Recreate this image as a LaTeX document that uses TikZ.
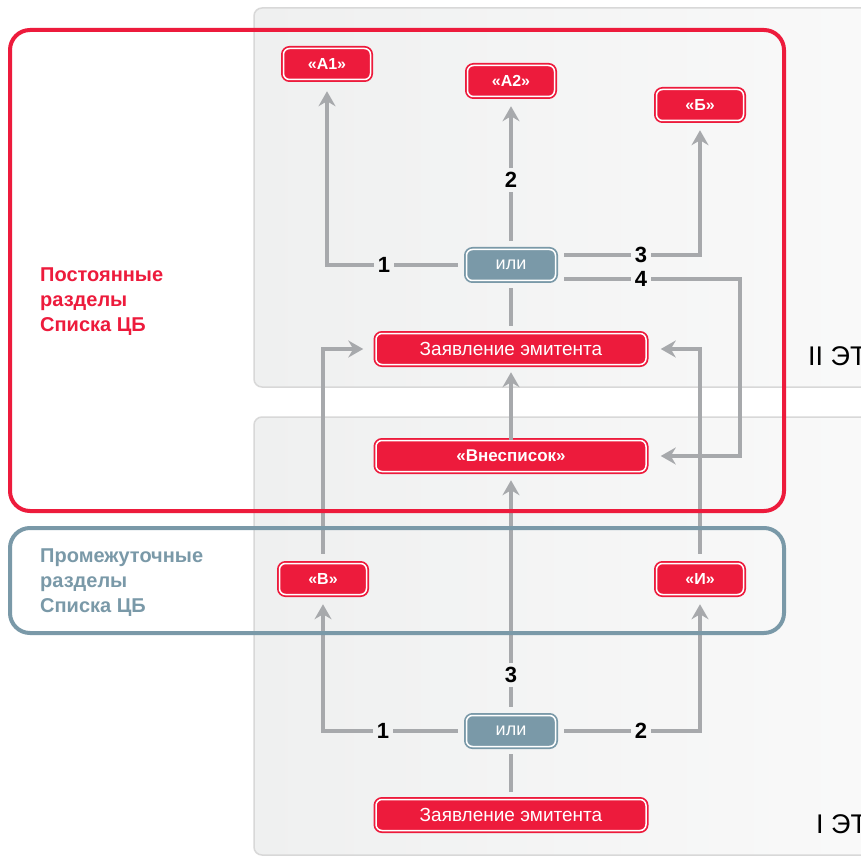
\documentclass[tikz,border=0pt]{standalone}
\usepackage{fontspec}
\setmainfont{Liberation Sans}
\usetikzlibrary{arrows.meta}
\definecolor{cbred}{RGB}{237,27,60}
\definecolor{cbblue}{RGB}{122,153,168}
\definecolor{cgray}{RGB}{167,169,172}
\definecolor{pleft}{RGB}{239,240,240}
\definecolor{pright}{RGB}{250,250,250}
\definecolor{pborder}{RGB}{216,216,216}
\tikzset{
  boxbase/.style={rectangle, rounded corners=6, draw=white, line width=1.5, text=white, inner sep=0, minimum height=31},
  rbox/.style={boxbase, fill=cbred, preaction={draw=cbred, line width=5}},
  gbox/.style={boxbase, fill=cbblue, preaction={draw=cbblue, line width=5}, minimum width=89, font=\fontsize{18}{20}\selectfont},
  smallbox/.style={rbox, minimum width=87, font=\bfseries\fontsize{16}{18}\selectfont},
  widebox/.style={rbox, minimum width=270},
  numlbl/.style={inner sep=4, font=\bfseries\fontsize{22}{24}\selectfont, text=black},
  conn/.style={draw=cgray, line width=4.5},
  arr/.style={conn, -{Stealth[length=15, width=17, inset=5]}, shorten >=10},
  panel/.style={rounded corners=8, shading=axis, left color=pleft, right color=pright, draw=pborder, line width=1.5},
  sect/.style={rounded corners=20, line width=4},
}
\begin{document}
\begin{tikzpicture}[x=1pt,y=-1pt]
\useasboundingbox (0,0) rectangle (861,858);
\clip (0,0) rectangle (861,858);
% panels
\fill[white] (0,0) rectangle (861,858);
\path[panel] (254,8) rectangle (920,387);
\path[panel] (254,417) rectangle (920,855);
\node[anchor=base west, inner sep=0, font=\fontsize{27}{30}\selectfont] (st2) at (808,365) {II ЭТ};
\node[anchor=base west, inner sep=0, font=\fontsize{27}{30}\selectfont] (st1) at (816,833) {I ЭТ};

% nodes
\node[smallbox] (a1) at (327,64) {«А1»};
\node[smallbox] (a2) at (511,81) {«А2»};
\node[smallbox] (b) at (700,105) {«Б»};
\node[gbox] (or2) at (511,265) {или};
\node[widebox, font=\fontsize{19}{21}\selectfont] (z2) at (511,349) {Заявление эмитента};
\node[widebox, font=\bfseries\fontsize{17}{20}\selectfont] (vn) at (511,456) {«Внесписок»};
\node[smallbox] (v) at (323,579) {«В»};
\node[smallbox] (i) at (700,579) {«И»};
\node[gbox] (or1) at (511,731) {или};
\node[widebox, font=\fontsize{19}{21}\selectfont] (z1) at (511,815) {Заявление эмитента};

% number labels
\node[numlbl] (n21) at (384,265) {1};
\node[numlbl] (n22) at (511,180) {2};
\node[numlbl] (n23) at (641,255) {3};
\node[numlbl] (n24) at (641,279) {4};
\coordinate (c4) at (740,279);
\node[numlbl] (n13) at (511,675) {3};
\node[numlbl] (n11) at (383,731) {1};
\node[numlbl] (n12) at (641,731) {2};

% upper stage connectors
\draw[conn, shorten <=8] (or2.west) -- (n21.east);
\draw[arr, shorten >=11] (n21.west) -| (a1.south);
\draw[conn, shorten <=8] (or2.north) -- (n22.south);
\draw[arr, shorten >=9] (n22.north) -- (a2.south);
\draw[conn, shorten <=8] (or2.east |- n23) -- (n23.west);
\draw[arr, shorten >=9] (n23.east) -| (b.south);
\draw[conn, shorten <=8] (or2.east |- n24) -- (n24.west);
\draw[arr, shorten >=14] (n24.east) -- (c4) |- (vn.east);
\draw[conn, shorten <=7, shorten >=7] (z2.north) -- (or2.south);
\draw[arr, shorten >=7] (vn.north) -- (z2.south);
\draw[arr, shorten <=9, shorten >=12] (v.north) |- (z2.west);
\draw[arr, shorten <=9, shorten >=14] (i.north) |- (z2.east);

% lower stage connectors
\draw[conn, shorten <=8] (or1.north) -- (n13.south);
\draw[arr, shorten >=8] (n13.north) -- (vn.south);
\draw[conn, shorten <=8] (or1.west) -- (n11.east);
\draw[arr, shorten >=9] (n11.west) -| (v.south);
\draw[conn, shorten <=8] (or1.east) -- (n12.west);
\draw[arr, shorten >=9] (n12.east) -| (i.south);
\draw[conn, shorten <=7, shorten >=7] (z1.north) -- (or1.south);

% section outlines
\draw[sect, cbred] (10,30) rectangle (784,511);
\draw[sect, cbblue] (10,528) rectangle (784,633);
\node[anchor=west, align=left, inner sep=0, text=cbred, font=\bfseries\fontsize{20}{25}\selectfont] (perm) at (40,302) {Постоянные\\разделы\\Списка ЦБ};
\node[anchor=west, align=left, inner sep=0, text=cbblue, font=\bfseries\fontsize{20}{25}\selectfont] (inter) at (40,583) {Промежуточные\\разделы\\Списка ЦБ};
\end{tikzpicture}
\end{document}
